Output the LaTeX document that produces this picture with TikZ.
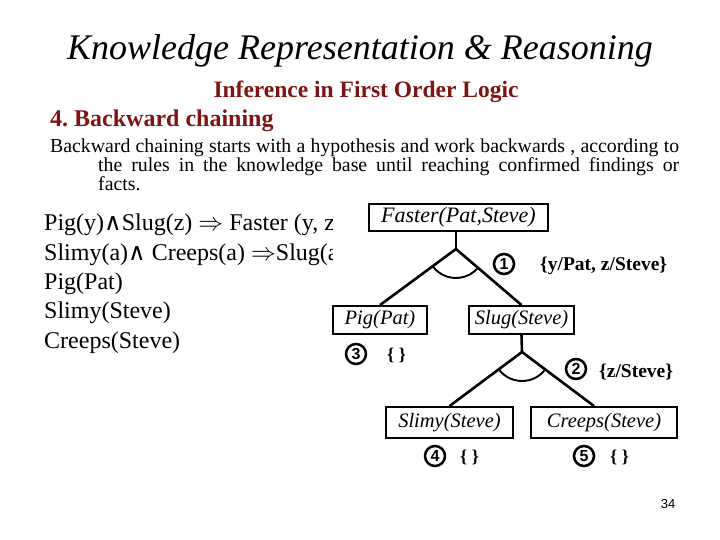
\documentclass[tikz,border=0pt]{standalone}
\usepackage{fontspec}
\setmainfont{Liberation Serif}
\setsansfont{Liberation Sans}
\newfontfamily\wedgefont{DejaVu Sans}
\usetikzlibrary{calc}
\definecolor{darkred}{RGB}{128,20,20}
\newcommand{\mywedge}{{\wedgefont ∧}}
\tikzset{
  fact/.style={draw, line width=1.9pt, inner sep=0pt, font=\fontsize{20.5}{20.5}\selectfont\itshape},
  branch/.style={line width=2.6pt},
  circ/.style={circle, draw, line width=2.5pt, minimum size=20pt, inner sep=0pt, font=\fontsize{16}{16}\selectfont\sffamily\bfseries},
  subst/.style={anchor=west, inner sep=0pt, font=\fontsize{19.5}{19.5}\selectfont\bfseries},
  empty/.style={anchor=west, inner sep=0pt, font=\fontsize{18}{18}\selectfont\bfseries}
}
\begin{document}
\begin{tikzpicture}[x=1pt,y=-1pt]
\useasboundingbox (0,0) rectangle (720,540);
% headings
\node[font=\fontsize{36}{36}\selectfont\itshape] (title) at (360,51) {Knowledge Representation \& Reasoning};
\node[font=\fontsize{23.5}{23.5}\selectfont\bfseries, text=darkred] (sub) at (366,92) {Inference in First Order Logic};
\node[anchor=west, inner sep=0pt, font=\fontsize{24}{24}\selectfont\bfseries, text=darkred] (sec) at (50,121) {4.\ Backward chaining};
\node[anchor=north west, inner sep=0pt, font=\fontsize{19.8}{19}\selectfont] (para) at (50,139)
  {\parbox[t]{629pt}{\hangindent=48pt\hangafter=1\parfillskip=0pt plus 1fil Backward chaining starts with a hypothesis and work backwards , according to\linebreak the rules in the knowledge base until reaching confirmed findings or\linebreak facts.}};
% rules and facts
\begin{scope}
\clip (0,200) rectangle (332,360);
\node[anchor=north west, inner sep=0pt, align=left, font=\fontsize{24}{29.3}\selectfont] (kb) at (44,214)
  {Pig(y)\mywedge Slug(z) $\Rightarrow$ Faster (y, z)\\
   Slimy(a)\mywedge{} Creeps(a) $\Rightarrow$Slug(a)\\
   Pig(Pat)\\
   Slimy(Steve)\\
   Creeps(Steve)};
\end{scope}
% proof tree
\node[fact, minimum width=179pt, minimum height=27pt, font=\fontsize{22}{22}\selectfont\itshape] (faster) at (458.5,217.5) {Faster(Pat,Steve)};
\node[fact, minimum width=94pt, minimum height=28pt] (pig) at (380,320) {Pig(Pat)};
\node[fact, minimum width=105pt, minimum height=28pt] (slug) at (521.5,320) {Slug(Steve)};
\node[fact, minimum width=127pt, minimum height=31pt] (slimy) at (449.5,422.5) {Slimy(Steve)};
\node[fact, minimum width=146pt, minimum height=31pt] (creeps) at (604,422.5) {Creeps(Steve)};
\coordinate (a1) at (456,249);
\coordinate (a2) at (522,352);
\coordinate (creepstop) at ($(creeps.north)+(-10,0)$);
\draw[branch] (faster.south -| a1) -- (a1);
\draw[branch] (pig.north) -- (a1) -- (slug.north);
\draw[branch] (slug.south) -- (a2);
\draw[branch] (slimy.north) -- (a2) -- (creepstop);
\draw[line width=1.9pt] let \p1=($(pig.north)-(a1)$), \p2=($(slug.north)-(a1)$),
  \n1={atan2(\y1,\x1)}, \n2={atan2(\y2,\x2)} in
  ($(a1)+(\n1:29pt)$) arc[start angle=\n1, end angle=\n2, radius=29pt];
\draw[line width=1.9pt] let \p1=($(slimy.north)-(a2)$), \p2=($(creepstop)-(a2)$),
  \n1={atan2(\y1,\x1)}, \n2={atan2(\y2,\x2)} in
  ($(a2)+(\n1:29pt)$) arc[start angle=\n1, end angle=\n2, radius=29pt];
% step numbers and substitutions
\node[circ] (c1) at (504,264) {1};
\node[subst] (s1) at (540,266) {\{y/Pat, z/Steve\}};
\node[circ] (c3) at (356,354) {3};
\node[empty] (s3) at (387,355) {\{ \}};
\node[circ] (c2) at (576,369) {2};
\node[subst] (s2) at (599,372) {\{z/Steve\}};
\node[circ] (c4) at (435,456) {4};
\node[empty] (s4) at (460,457) {\{ \}};
\node[circ] (c5) at (584,456) {5};
\node[empty] (s5) at (610,457) {\{ \}};
\node[font=\fontsize{13}{13}\selectfont\sffamily] (page) at (668,504) {34};
\end{tikzpicture}
\end{document}
